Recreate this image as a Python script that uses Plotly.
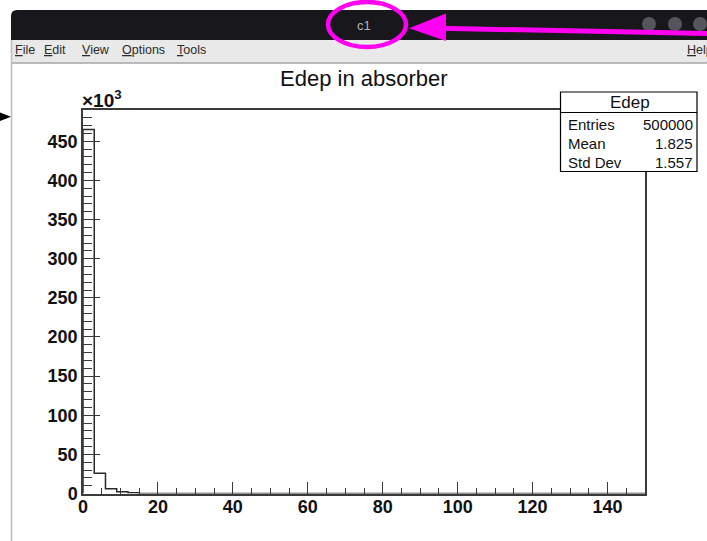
import numpy as np
import plotly.graph_objects as go

W, H = 707, 541

# Histogram "Edep": 50 bins of width 3 over [0, 150]
bin_edges = np.arange(0, 151, 3)
counts = [465000, 26000, 6000, 2300, 1000,
          0, 0, 0, 0, 0, 0, 0, 0, 0, 0, 0, 0, 0, 0, 0,
          0, 0, 0, 0, 0, 0, 0, 0, 0, 0, 0, 0, 0, 0, 0,
          0, 0, 0, 0, 0, 0, 0, 0, 0, 0, 0, 0, 0, 0, 0]

# Statistics box contents
stats_name = "Edep"
stats_labels = ["Entries", "Mean", "Std Dev"]
stats_values = ["500000", "1.825", "1.557"]

# Axis ticks (y labelled in units of 10^3)
y_tickvals = [0, 50000, 100000, 150000, 200000, 250000, 300000, 350000, 400000, 450000]
y_ticktext = ["0", "50", "100", "150", "200", "250", "300", "350", "400", "450"]

title_text = "Edep in absorber"
menu_items = [("File", 13), ("Edit", 42), ("View", 80), ("Options", 120), ("Tools", 175)]


def fx(x):
    return x / W


def fy(y):
    return 1 - y / H


# step outline of the histogram
xs = [0.0] + [float(e) for e in bin_edges[:-1]] + [float(bin_edges[-1])]
ys = [0] + counts + [counts[-1]]

fig = go.Figure()
fig.add_trace(go.Scatter(
    x=xs, y=ys, mode="lines", line_shape="hv",
    line=dict(color="#2a2a2a", width=1.5), hoverinfo="skip", showlegend=False,
))

axis_color = "#3a3a3a"
tick_font = dict(family="Liberation Sans", size=18, color="#111", weight="bold")

fig.update_layout(
    template="none",
    width=W, height=H, autosize=False,
    margin=dict(l=0, r=0, t=0, b=0, pad=0),
    paper_bgcolor="white", plot_bgcolor="white",
    showlegend=False,
    xaxis=dict(
        domain=[fx(83), fx(645)], range=[0, 150], automargin=False,
        showline=True, linecolor=axis_color, linewidth=1.5, mirror=True,
        ticks="inside", ticklen=12, tickwidth=1.3, tickcolor=axis_color,
        tick0=0, dtick=20, ticklabelstandoff=-4,
        minor=dict(dtick=5, tick0=0, ticks="inside", ticklen=6, tickwidth=1.2, tickcolor=axis_color),
        showgrid=False, zeroline=False, tickfont=tick_font,
    ),
    yaxis=dict(
        domain=[fy(493.5), fy(110)], range=[0, 490000], automargin=False,
        showline=True, linecolor=axis_color, linewidth=1.5, mirror=True,
        ticks="inside", ticklen=17, tickwidth=1.3, tickcolor=axis_color,
        tickvals=y_tickvals, ticktext=y_ticktext,
        minor=dict(dtick=10000, tick0=0, ticks="inside", ticklen=9, tickwidth=1.2, tickcolor=axis_color),
        showgrid=False, zeroline=False, tickfont=tick_font,
    ),
)

shapes = []
annotations = []

# window chrome: title bar with rounded corner
shapes.append(dict(
    type="path", xref="paper", yref="paper",
    path=(f"M {fx(11)},{fy(40)} L {fx(11)},{fy(16)} Q {fx(11)},{fy(10)} {fx(17)},{fy(10)} "
          f"L {fx(707)},{fy(10)} L {fx(707)},{fy(40)} Z"),
    fillcolor="#17171c", line=dict(width=0),
))
# menu bar
shapes.append(dict(type="rect", xref="paper", yref="paper",
                   x0=fx(11), x1=fx(707), y0=fy(63), y1=fy(40),
                   fillcolor="#e9e9e9", line=dict(width=0)))
shapes.append(dict(type="line", xref="paper", yref="paper",
                   x0=fx(12), x1=fx(707), y0=fy(63), y1=fy(63),
                   line=dict(color="#a6a6a6", width=1.5)))
# left window border
shapes.append(dict(type="line", xref="paper", yref="paper",
                   x0=fx(11.5), x1=fx(11.5), y0=fy(40), y1=fy(541),
                   line=dict(color="#bdbdbd", width=1.5)))
# title bar buttons
for cx in (649, 675, 700):
    shapes.append(dict(type="circle", xref="paper", yref="paper",
                       x0=fx(cx - 7), x1=fx(cx + 7), y0=fy(31), y1=fy(17),
                       fillcolor="#55555d", line=dict(width=0)))
# small black pointer at the left edge
shapes.append(dict(type="path", xref="paper", yref="paper",
                   path=f"M {fx(0)},{fy(112.5)} L {fx(11)},{fy(116.8)} L {fx(0)},{fy(121)} Z",
                   fillcolor="black", line=dict(width=0)))
# magenta highlight ellipse and arrow
shapes.append(dict(type="circle", xref="paper", yref="paper",
                   x0=fx(328), x1=fx(406), y0=fy(47), y1=fy(2),
                   line=dict(color="#ff00f0", width=4.5)))
shapes.append(dict(type="line", xref="paper", yref="paper",
                   x0=fx(440), x1=fx(707), y0=fy(28.3), y1=fy(33.5),
                   line=dict(color="#ff00f0", width=5)))
shapes.append(dict(type="path", xref="paper", yref="paper",
                   path=f"M {fx(409)},{fy(28.3)} L {fx(446)},{fy(13.5)} L {fx(446)},{fy(41)} Z",
                   fillcolor="#ff00f0", line=dict(width=0)))

# statistics box
shapes.append(dict(type="rect", xref="paper", yref="paper",
                   x0=fx(560.5), x1=fx(697), y0=fy(171.5), y1=fy(92),
                   fillcolor="white", line=dict(color="black", width=1.2), layer="above"))
shapes.append(dict(type="line", xref="paper", yref="paper",
                   x0=fx(560.5), x1=fx(697), y0=fy(112.5), y1=fy(112.5),
                   line=dict(color="black", width=1.2)))

stat_font = dict(family="Liberation Sans", size=15, color="#111")
annotations.append(dict(text=stats_name, x=fx(629.5), y=fy(102.5), xref="paper", yref="paper",
                        xanchor="center", yanchor="middle", showarrow=False,
                        font=dict(family="Liberation Sans", size=17, color="#111")))
for i, (lab, val) in enumerate(zip(stats_labels, stats_values)):
    yc = 124 + i * 19
    annotations.append(dict(text=lab, x=fx(566), y=fy(yc), xref="paper", yref="paper",
                            xanchor="left", yanchor="middle", showarrow=False, font=stat_font))
    annotations.append(dict(text=val, x=fx(694.5), y=fy(yc), xref="paper", yref="paper",
                            xanchor="right", yanchor="middle", showarrow=False, font=stat_font))

# histogram title
annotations.append(dict(text=title_text, x=fx(364), y=fy(78), xref="paper", yref="paper",
                        xanchor="center", yanchor="middle", showarrow=False,
                        font=dict(family="Liberation Sans", size=22, color="#111")))
# exponent label of the y axis
annotations.append(dict(text="<b>×10<sup>3</sup></b>", x=fx(80), y=fy(99), xref="paper", yref="paper",
                        xanchor="left", yanchor="middle", showarrow=False,
                        font=dict(family="Liberation Sans", size=19, color="#111")))
# window title
annotations.append(dict(text="c1", x=fx(364), y=fy(25), xref="paper", yref="paper",
                        xanchor="center", yanchor="middle", showarrow=False,
                        font=dict(family="Liberation Sans", size=13, color="#b4b4b8")))
# menu entries with underlined accelerator letters
menu_font = dict(family="Liberation Sans", size=12.5, color="#2b2b2b")
for name, x0 in menu_items:
    annotations.append(dict(text=f"<u>{name[0]}</u>{name[1:]}", x=fx(x0), y=fy(50.5),
                            xref="paper", yref="paper", xanchor="left", yanchor="middle",
                            showarrow=False, font=menu_font))
annotations.append(dict(text="<u>H</u>elp", x=fx(685), y=fy(50.5), xref="paper", yref="paper",
                        xanchor="left", yanchor="middle", showarrow=False, font=menu_font))

fig.update_layout(shapes=shapes, annotations=annotations)
fig.write_html("out.html")
